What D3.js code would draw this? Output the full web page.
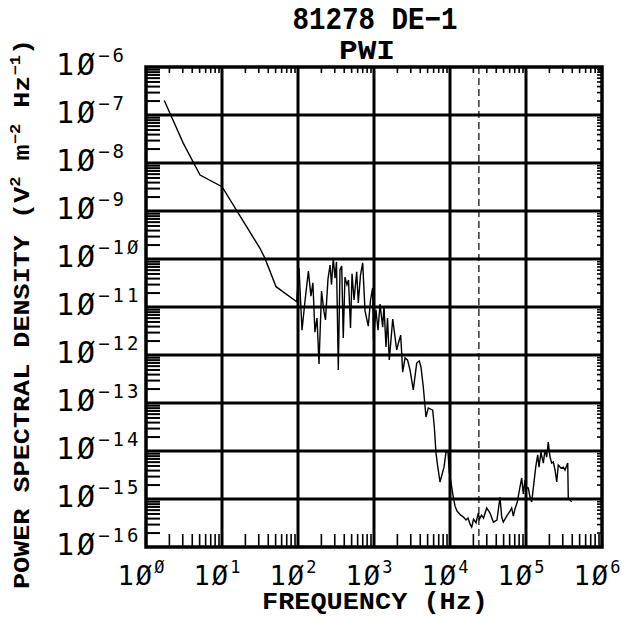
<!DOCTYPE html>
<html>
<head>
<meta charset="utf-8">
<script src="https://d3js.org/d3.v7.min.js"></script>
<style>
  body { margin: 0; background: #fff; }
  svg { display: block; }
  .tick-label { font-family: "DejaVu Sans Mono", monospace; fill: #000; }
  .title { font-family: "Liberation Mono", "Courier New", monospace; font-weight: bold; fill: #000; }
</style>
</head>
<body>
<svg id="chart" width="624" height="617"></svg>
<script>
// spectrum, frequency in Hz
var freqHz = [
  1.74, 3.10, 5.14, 10.0, 31.6, 36.8, 51.4, 96.2,
  103, 113, 124, 137, 148, 157, 167, 178, 189, 204,
  220, 230, 248, 264, 276, 291, 307, 321, 339, 357,
  376, 394, 415, 441, 462, 491, 514, 546, 592, 621,
  664, 710, 762, 841, 900, 961, 985,
  1062, 1129, 1200, 1301, 1354, 1438, 1506, 1589, 1763, 1990,
  2114, 2245, 2385, 2560, 2760, 2977, 3289, 3647, 3946, 4152,
  4455, 4831, 5178, 5921, 6215, 6543, 6855, 7386, 8341, 8860,
  9410, 9790,
  1.052e4, 1.094e4, 1.164e4, 1.237e4, 1.383e4, 1.506e4, 1.624e4, 1.726e4, 1.834e4, 1.930e4,
  2.04e4, 2.20e4, 2.36e4, 2.44e4, 2.60e4, 2.76e4, 3.04e4, 3.36e4, 3.72e4, 4.15e4,
  4.55e4, 4.79e4, 5.03e4, 5.57e4, 6.15e4, 6.48e4, 6.81e4, 7.16e4, 7.69e4, 8.34e4,
  8.78e4, 9.21e4, 9.70e4,
  1.021e5, 1.072e5, 1.129e5, 1.188e5, 1.247e5, 1.342e5, 1.426e5, 1.483e5, 1.574e5, 1.690e5,
  1.778e5, 1.871e5, 1.964e5, 2.07e5, 2.18e5, 2.29e5, 2.41e5, 2.54e5, 2.66e5, 2.89e5,
  3.10e5, 3.26e5, 3.54e5, 3.60e5, 3.99e5
];

// power spectral density, V^2 m^-2 Hz^-1
var psdValues = [
  2.0e-7, 2.57e-8, 5.6e-9, 3.2e-9, 1.67e-10, 1.03e-10, 2.65e-11, 1.29e-11,
  6.5e-11, 3.3e-12, 1.40e-11, 5.6e-11, 1.69e-11, 3.2e-11, 3.0e-12, 5.9e-12, 6.5e-13, 2.15e-11,
  7.9e-12, 5.4e-12, 3.8e-11, 7.5e-11, 2.9e-11, 1.05e-10, 4.0e-11, 8.7e-11, 4.9e-13, 5.9e-11,
  7.1e-11, 2.26e-12, 4.2e-11, 2.9e-11, 3.65e-11, 3.65e-12, 4.9e-11, 1.40e-11, 5.4e-11, 1.21e-11,
  4.6e-11, 8.3e-11, 8.3e-12, 4.0e-12, 1.40e-11, 2.49e-11, 2.05e-12,
  8.7e-12, 3.3e-12, 1.15e-11, 3.8e-12, 1.05e-11, 1.47e-12, 5.9e-12, 7.9e-13, 5.6e-12, 1.27e-12,
  1.87e-12, 2.6e-12, 4.4e-13, 8.7e-13, 7.9e-13, 4.9e-13, 1.87e-13, 6.8e-13, 7.5e-13, 5.6e-13,
  2.15e-13, 5.1e-14, 7.9e-14, 7.1e-14, 3.2e-14, 9.1e-15, 5.1e-15, 2.26e-15, 4.6e-15, 9.5e-15,
  9.5e-15, 3.65e-15,
  1.78e-15, 1.21e-15, 7.1e-16, 5.6e-16, 4.6e-16, 4.2e-16, 3.65e-16, 4.0e-16, 3.0e-16, 2.6e-16,
  3.8e-16, 3.2e-16, 5.1e-16, 3.8e-16, 4.6e-16, 4.0e-16, 6.5e-16, 5.1e-16, 3.3e-16, 3.65e-16,
  1.10e-15, 4.2e-16, 3.3e-16, 4.4e-16, 5.6e-16, 6.5e-16, 4.4e-16, 6.2e-16, 8.7e-16, 1.78e-15,
  2.74e-15, 1.27e-15, 2.49e-15,
  1.69e-15, 1.69e-15, 1.10e-15, 8.7e-16, 1.69e-15, 4.6e-15, 8.3e-15, 4.6e-15, 9.5e-15, 5.6e-15,
  1.05e-14, 7.5e-15, 1.54e-14, 7.5e-15, 5.6e-15, 5.9e-15, 4.0e-15, 2.26e-15, 5.1e-15, 4.4e-15,
  4.6e-15, 4.0e-15, 5.6e-15, 1.05e-15, 8.7e-16
];

var markerFreq = 2.4e4;           // dashed reference frequency
var xExponents = [0, 1, 2, 3, 4, 5, 6];
var yExponents = [-6, -7, -8, -9, -10, -11, -12, -13, -14, -15, -16];
var titleLines = ['81278 DE\u22121', 'PWI'];
var xTitle = 'FREQUENCY (Hz)';

var svg = d3.select('#chart');

var x = d3.scaleLog().domain([1, 1e6]).range([146, 602]);
var y = d3.scaleLog().domain([1e-16, 1e-6]).range([547, 67]);

var x0 = x.range()[0], x1 = x.range()[1];
var yTop = y.range()[1], yBot = y.range()[0];

// minor tick values 2..9 in every decade
var xMinor = [], yMinor = [];
xExponents.slice(0, -1).forEach(function(e) {
  for (var m = 2; m < 10; m++) xMinor.push(m * Math.pow(10, e));
});
yExponents.slice(1).forEach(function(e) {
  for (var m = 2; m < 10; m++) yMinor.push(m * Math.pow(10, e));
});

// minor ticks on all four sides, pointing inward
function minorTicks(axis, width) {
  return function(g) {
    g.call(axis.tickFormat(''));
    g.select('.domain').remove();
    g.selectAll('line').attr('stroke', '#000').attr('stroke-width', width);
  };
}

svg.append('g').attr('transform', 'translate(0,' + yBot + ')')
  .call(minorTicks(d3.axisBottom(x).tickValues(xMinor).tickSize(-13), 1.6));
svg.append('g').attr('transform', 'translate(0,' + yTop + ')')
  .call(minorTicks(d3.axisTop(x).tickValues(xMinor).tickSize(-6), 1.6));
svg.append('g').attr('transform', 'translate(' + x0 + ',0)')
  .call(minorTicks(d3.axisLeft(y).tickValues(yMinor).tickSize(-14), 2));
svg.append('g').attr('transform', 'translate(' + x1 + ',0)')
  .call(minorTicks(d3.axisRight(y).tickValues(yMinor).tickSize(-5), 1.6));

// decade grid
svg.append('g').selectAll('line')
  .data(xExponents.slice(1, -1))
  .enter().append('line')
  .attr('x1', function(e) { return x(Math.pow(10, e)); })
  .attr('x2', function(e) { return x(Math.pow(10, e)); })
  .attr('y1', yTop).attr('y2', yBot)
  .attr('stroke', '#000').attr('stroke-width', 3);

svg.append('g').selectAll('line')
  .data(yExponents.slice(1, -1))
  .enter().append('line')
  .attr('x1', x0).attr('x2', x1)
  .attr('y1', function(e) { return y(Math.pow(10, e)); })
  .attr('y2', function(e) { return y(Math.pow(10, e)); })
  .attr('stroke', '#000').attr('stroke-width', 3);

// dashed marker
svg.append('line')
  .attr('x1', x(markerFreq)).attr('x2', x(markerFreq))
  .attr('y1', yTop).attr('y2', yBot)
  .attr('stroke', '#000').attr('stroke-width', 1.2)
  .attr('stroke-dasharray', '7,4');

// spectrum
var points = freqHz.map(function(f, i) { return [f, psdValues[i]]; });
var line = d3.line()
  .x(function(d) { return x(d[0]); })
  .y(function(d) { return y(d[1]); });

svg.append('path')
  .datum(points)
  .attr('d', line)
  .attr('fill', 'none')
  .attr('stroke', '#000')
  .attr('stroke-width', 1.4);

// frame
svg.append('rect')
  .attr('x', x0).attr('y', yTop)
  .attr('width', x1 - x0).attr('height', yBot - yTop)
  .attr('fill', 'none').attr('stroke', '#000').attr('stroke-width', 3.5);

// tick labels: 1Ø with superscript exponent
function expText(e) { return e < 0 ? '\u2212' + (-e) : String(e); }
function slashed(s) { return s.replace(/0/g, '\u00d8'); }

var xl = svg.append('g').selectAll('text')
  .data(xExponents)
  .enter().append('text')
  .attr('class', 'tick-label')
  .attr('x', function(e) { return x(Math.pow(10, e)) - 5; })
  .attr('y', 585)
  .attr('text-anchor', 'middle');
xl.append('tspan').attr('font-size', 27).attr('letter-spacing', 2).text('1\u00d8');
xl.append('tspan').attr('font-size', 17).attr('dy', -12)
  .text(function(e) { return slashed(expText(e)); });

var yl = svg.append('g').selectAll('text')
  .data(yExponents)
  .enter().append('text')
  .attr('class', 'tick-label')
  .attr('x', 56)
  .attr('y', function(e) { return y(Math.pow(10, e)) + 8; });
yl.append('tspan').attr('font-size', 30).attr('letter-spacing', 3).text('1\u00d8');
yl.append('tspan').attr('font-size', 19).attr('dy', -13).attr('letter-spacing', 3)
  .text(function(e) { return slashed(expText(e)); });

// titles
svg.append('text').attr('class', 'title')
  .attr('x', 375).attr('y', 29).attr('text-anchor', 'middle')
  .attr('font-size', 31)
  .attr('textLength', 165).attr('lengthAdjust', 'spacingAndGlyphs')
  .text(titleLines[0]);
svg.append('text').attr('class', 'title')
  .attr('x', 367).attr('y', 59).attr('text-anchor', 'middle')
  .attr('font-size', 27)
  .attr('textLength', 56).attr('lengthAdjust', 'spacingAndGlyphs')
  .text(titleLines[1]);

svg.append('text').attr('class', 'title')
  .attr('x', 375).attr('y', 609).attr('text-anchor', 'middle')
  .attr('font-size', 23)
  .attr('textLength', 226).attr('lengthAdjust', 'spacingAndGlyphs')
  .text(xTitle);

var yt = svg.append('text').attr('class', 'title')
  .attr('transform', 'translate(29,314) rotate(-90)')
  .attr('text-anchor', 'middle')
  .attr('font-size', 22)
  .attr('textLength', 550).attr('lengthAdjust', 'spacingAndGlyphs');
yt.append('tspan').text('POWER SPECTRAL DENSITY (V');
yt.append('tspan').attr('font-size', 14).attr('dy', -9).text('2');
yt.append('tspan').attr('dy', 9).text(' m');
yt.append('tspan').attr('font-size', 14).attr('dy', -9).text('\u22122');
yt.append('tspan').attr('dy', 9).text(' Hz');
yt.append('tspan').attr('font-size', 14).attr('dy', -9).text('\u22121');
yt.append('tspan').attr('dy', 9).text(')');
</script>
</body>
</html>
